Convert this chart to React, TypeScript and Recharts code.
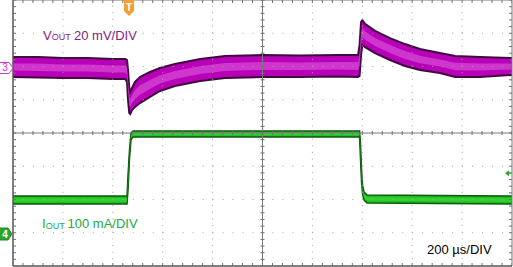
import React from 'react';
import { ComposedChart, XAxis, YAxis, Area, Scatter, ReferenceLine, ReferenceDot } from 'recharts';

// ---- data (time in µs, VOUT in mV relative to ch3 ground, IOUT in mA) ----
const vTime = [0, 100, 200, 300, 400, 450, 457, 461, 466, 470, 477, 489, 509, 549, 589, 649, 750, 850, 1000, 1150, 1300, 1383, 1389, 1395, 1400, 1411, 1451, 1511, 1571, 1631, 1711, 1772, 1872, 2000];
const vTop = [6.6, 6.6, 6.0, 6.0, 5.4, 5.4, 4.8, -1.2, -12.0, -14.4, -12.0, -8.4, -5.4, -2.4, 0, 2.4, 5.4, 7.2, 7.8, 7.5, 7.8, 7.8, 13.8, 27.7, 28.9, 26.5, 22.3, 18.0, 14.4, 11.4, 9.0, 7.2, 6.6, 6.0];
const vBottom = [-5.4, -5.7, -6.0, -6.0, -6.6, -6.6, -8.4, -19.2, -27.1, -27.7, -25.3, -23.5, -21.1, -17.4, -13.8, -10.8, -7.8, -6.0, -5.4, -5.4, -5.1, -5.4, -4.8, 7.8, 13.8, 12.6, 9.0, 4.8, 1.2, -1.2, -3.0, -5.4, -5.4, -4.2];

const iTime = [0, 457, 461, 467, 473, 481, 1389, 1393, 1397, 1401, 1407, 1419, 2000];
const iTop = [114, 114, 177, 253, 304, 310, 310, 268, 192, 147, 126, 117, 114];
const iBottom = [90, 90, 132, 229, 283, 292, 292, 223, 156, 120, 102, 93, 90];

// scope grid: 10 horizontal divisions of 200 µs, 8 vertical divisions
const xDivs = [0, 200, 400, 600, 800, 1000, 1200, 1400, 1600, 1800, 2000];
const yDivs = [-4, -3, -2, -1, 0, 1, 2, 3, 4];
const TRIGGER_T = 465;
const TRIGGER_LEVEL_MA = 183;

const vData = vTime.map((t, i) => {
  const mid = (vTop[i] + vBottom[i]) / 2;
  const h = vTop[i] - vBottom[i];
  return { t, band: [vBottom[i], vTop[i]], inner: [mid - h * 0.18, mid + h * 0.18] };
});
const iData = iTime.map((t, i) => {
  const mid = (iTop[i] + iBottom[i]) / 2;
  const h = iTop[i] - iBottom[i];
  return { t, band: [iBottom[i], iTop[i]], inner: [mid - h * 0.22, mid + h * 0.22] };
});

const minorX: number[] = [];
for (let k = 0; k <= 50; k++) minorX.push(k * 40);
const minorY: number[] = [];
for (let k = 0; k <= 40; k++) minorY.push(-4 + k * 0.2);

const centerVTicks = minorY.map((d) => ({ t: 1000, d }));
const centerHTicks = minorX.map((t) => ({ t, d: 0 }));
const leftTicks = minorY.map((d) => ({ t: 0, d }));
const rightTicks = minorY.map((d) => ({ t: 2000, d }));
const topTicks = minorX.map((t) => ({ t, d: 4 }));
const bottomTicks = minorX.map((t) => ({ t, d: -4 }));

const TICK = '#707070';
const FONT = 'Liberation Sans, Arial, sans-serif';

const hMark = (p: any) => <line x1={p.cx - 2} x2={p.cx + 2} y1={p.cy} y2={p.cy} stroke={TICK} strokeWidth={1} />;
const vMark = (p: any) => <line x1={p.cx} x2={p.cx} y1={p.cy - 2} y2={p.cy + 2} stroke={TICK} strokeWidth={1} />;
const lMark = (p: any) => <line x1={p.cx} x2={p.cx + 3} y1={p.cy} y2={p.cy} stroke={TICK} strokeWidth={1} />;
const rMark = (p: any) => <line x1={p.cx - 3} x2={p.cx} y1={p.cy} y2={p.cy} stroke={TICK} strokeWidth={1} />;
const tMark = (p: any) => <line x1={p.cx} x2={p.cx} y1={p.cy} y2={p.cy + 3} stroke={TICK} strokeWidth={1} />;
const bMark = (p: any) => <line x1={p.cx} x2={p.cx} y1={p.cy - 3} y2={p.cy} stroke={TICK} strokeWidth={1} />;

const ch3Marker = (p: any) => (
  <g>
    <path d={`M${p.cx - 14},${p.cy - 5.5} L${p.cx - 4},${p.cy - 5.5} L${p.cx},${p.cy} L${p.cx - 4},${p.cy + 5.5} L${p.cx - 14},${p.cy + 5.5} Z`} fill="#ffffff" stroke="#cc33cc" strokeWidth={1} />
    <text x={p.cx - 8} y={p.cy + 3.5} fontSize={10} fontFamily={FONT} fill="#cc33cc" textAnchor="middle">3</text>
  </g>
);
const ch4Marker = (p: any) => (
  <g>
    <path d={`M${p.cx - 14},${p.cy - 6} L${p.cx - 5},${p.cy - 6} L${p.cx - 1},${p.cy} L${p.cx - 5},${p.cy + 6} L${p.cx - 14},${p.cy + 6} Z`} fill="#2aa52a" stroke="#1f8f1f" strokeWidth={1} />
    <text x={p.cx - 8} y={p.cy + 3.5} fontSize={10} fontWeight="bold" fontFamily={FONT} fill="#ffffff" textAnchor="middle">4</text>
  </g>
);
const trigMarker = (p: any) => (
  <g>
    <path d={`M${p.cx - 5},${p.cy} L${p.cx + 5},${p.cy} L${p.cx + 5},${p.cy + 11} L${p.cx},${p.cy + 16} L${p.cx - 5},${p.cy + 11} Z`} fill="#f4a030" />
    <text x={p.cx} y={p.cy + 11} fontSize={10} fontWeight="bold" fontFamily={FONT} fill="#ffffff" textAnchor="middle">T</text>
  </g>
);
const levelMarker = (p: any) => (
  <g>
    <path d={`M${p.cx - 7},${p.cy} L${p.cx - 3},${p.cy - 3} L${p.cx - 3},${p.cy + 3} Z`} fill="#2aa52a" />
    <line x1={p.cx - 3} x2={p.cx - 1} y1={p.cy} y2={p.cy} stroke="#2aa52a" strokeWidth={1} />
  </g>
);

export default function App() {
  return (
    <div style={{ position: 'fixed', left: 0, top: 0, width: 513, height: 267, background: '#ffffff' }}>
      <ComposedChart width={513} height={267} margin={{ top: 0, right: 1, bottom: 1, left: 13 }}>
        <XAxis type="number" dataKey="t" domain={[0, 2000]} allowDataOverflow hide />
        <YAxis yAxisId="v" type="number" domain={[-119.1, 40.9]} allowDataOverflow hide />
        <YAxis yAxisId="i" type="number" domain={[-96.2, 703.8]} allowDataOverflow hide />
        <YAxis yAxisId="d" type="number" dataKey="d" domain={[-4, 4]} allowDataOverflow hide />

        {xDivs.filter((t) => t !== 0 && t !== 1000 && t !== 2000).map((t) => (
          <ReferenceLine key={'gx' + t} x={t} yAxisId="d" stroke="#a0a0a0" strokeDasharray="1 5.65" strokeWidth={1} />
        ))}
        {yDivs.filter((d) => d !== 0 && d !== 4 && d !== -4).map((d) => (
          <ReferenceLine key={'gy' + d} y={d} yAxisId="d" stroke="#a0a0a0" strokeDasharray="1 8.98" strokeWidth={1} />
        ))}

        <Area yAxisId="v" data={vData} dataKey="band" type="linear" fill="#b800b8" fillOpacity={1} stroke="#400a40" strokeWidth={2} isAnimationActive={false} />
        <Area yAxisId="v" data={vData} dataKey="inner" type="linear" fill="#dc5adc" fillOpacity={0.6} stroke="none" isAnimationActive={false} />
        <Area yAxisId="i" data={iData} dataKey="band" type="linear" fill="#1fbf1f" fillOpacity={1} stroke="#0d5a0d" strokeWidth={1.5} isAnimationActive={false} />
        <Area yAxisId="i" data={iData} dataKey="inner" type="linear" fill="#3ad83a" fillOpacity={0.7} stroke="none" isAnimationActive={false} />

        <ReferenceLine x={1000} yAxisId="d" stroke="#7a7a7a" strokeWidth={1} />
        <ReferenceLine y={0} yAxisId="d" stroke="#7a7a7a" strokeWidth={1} />
        <ReferenceLine x={0} yAxisId="d" stroke="#555555" strokeWidth={1.5} />
        <ReferenceLine x={2000} yAxisId="d" stroke="#777777" strokeWidth={1} />
        <ReferenceLine y={4} yAxisId="d" stroke="#777777" strokeWidth={1} />
        <ReferenceLine y={-4} yAxisId="d" stroke="#555555" strokeWidth={1.5} />

        <Scatter yAxisId="d" data={centerVTicks} shape={hMark} isAnimationActive={false} />
        <Scatter yAxisId="d" data={centerHTicks} shape={vMark} isAnimationActive={false} />
        <Scatter yAxisId="d" data={leftTicks} shape={lMark} isAnimationActive={false} />
        <Scatter yAxisId="d" data={rightTicks} shape={rMark} isAnimationActive={false} />
        <Scatter yAxisId="d" data={topTicks} shape={tMark} isAnimationActive={false} />
        <Scatter yAxisId="d" data={bottomTicks} shape={bMark} isAnimationActive={false} />

        <ReferenceDot x={0} y={0} yAxisId="v" shape={ch3Marker} />
        <ReferenceDot x={0} y={0} yAxisId="i" shape={ch4Marker} />
        <ReferenceDot x={TRIGGER_T} y={4} yAxisId="d" shape={trigMarker} />
        <ReferenceDot x={2000} y={TRIGGER_LEVEL_MA} yAxisId="i" shape={levelMarker} />
      </ComposedChart>
      <svg width={513} height={267} style={{ position: 'absolute', left: 0, top: 0, pointerEvents: 'none' }}>
        <text x={43} y={39.5} fontSize={13} fontFamily={FONT} fill="#862286">
          V<tspan fontSize={9} dy={0.8}>OUT</tspan>
          <tspan x={74} dy={-0.8}>20 mV/DIV</tspan>
        </text>
        <text x={42} y={228.3} fontSize={13} fontFamily={FONT} fill="#22a845">
          I<tspan fontSize={9} dy={0.8}>OUT</tspan>
          <tspan x={67.5} dy={-0.8}>100 mA/DIV</tspan>
        </text>
        <text x={427} y={254} fontSize={13} fontFamily={FONT} fill="#000000">200 µs/DIV</text>
      </svg>
    </div>
  );
}
